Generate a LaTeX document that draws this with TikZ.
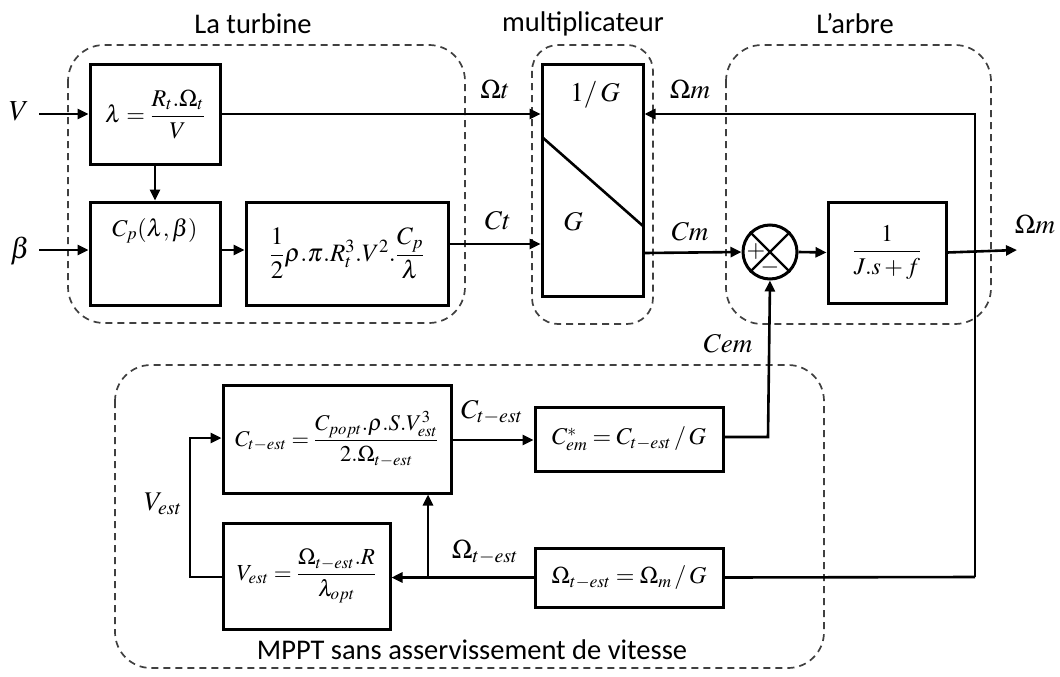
\documentclass[tikz,border=0pt]{standalone}
\usepackage{amsmath}
\usepackage{mathptmx}
\usepackage[no-math]{fontspec}
\setmainfont{Carlito}
\usetikzlibrary{arrows.meta}
\tikzset{
  blk/.style={draw, line width=3pt, inner sep=0pt, font=\fontsize{24}{28}\selectfont},
  grp/.style={draw=black!75, dashed, dash pattern=on 7pt off 5pt, line width=1.7pt, rounded corners=36pt},
  ln/.style={line width=2.6pt},
  arr/.style={line width=2.6pt, -{Triangle[length=11pt,width=10pt]}},
  lbl/.style={font=\fontsize{27}{30}\selectfont, inner sep=0pt},
  ttl/.style={font=\fontsize{28.5}{32}\selectfont, inner sep=0pt},
}
\begin{document}
\begin{tikzpicture}[x=1pt, y=-1pt]
\useasboundingbox (0,0) rectangle (1060,677);
% dashed groups
\draw[grp] (68,45) rectangle (465,323);
\draw[grp, rounded corners=26pt] (532,45) rectangle (653,324);
\draw[grp] (726,45) rectangle (991,324);
\draw[grp] (115,365) rectangle (824,668);
\node[ttl] (t1) at (253,24) {La turbine};
\node[ttl] (t2) at (583,24) {multiplicateur};
\node[ttl] (t3) at (855,24) {L’arbre};
\node[ttl] (t4) at (472,650) {MPPT sans asservissement de vitesse};
% blocks
\node[blk, minimum width=130pt, minimum height=99pt] (lam) at (155,114.5) {$\lambda=\dfrac{R_t.\Omega_t}{V}$};
\node[blk, minimum width=130pt, minimum height=103pt,
  label={[anchor=north, yshift=-14pt, font=\fontsize{24}{28}\selectfont]north:{$C_p(\lambda,\beta)$}}] (cp) at (155,253.5) {};
\node[blk, minimum width=202pt, minimum height=103pt, font=\fontsize{25}{29}\selectfont] (pw) at (347,253.5) {$\dfrac{1}{2}\rho.\pi.R_t^3.V^2.\dfrac{C_p}{\lambda}$};
\node[blk, minimum width=101pt, minimum height=231pt] (gb) at (592.5,180.5) {};
\draw[ln] (542,137) -- (643,226);
\node[lbl] (g1) at (595,95) {$1/\,G$};
\node[lbl] (g2) at (573,222) {$G$};
\node[draw, circle, line width=3pt, minimum size=54pt, inner sep=0pt] (sum) at (770,252) {};
\draw[line width=2.4pt] (sum.north west) -- (sum.south east) (sum.north east) -- (sum.south west);
\node[font=\fontsize{24}{26}\selectfont, inner sep=0pt] (plus) at (756,252) {$\boldsymbol{+}$};
\node[font=\fontsize{24}{26}\selectfont, inner sep=0pt] (minus) at (770,267) {$\boldsymbol{-}$};
\node[blk, minimum width=118pt, minimum height=101pt] (jb) at (887,252.5) {$\dfrac{1}{J.s+f}$};
\node[blk, minimum width=228pt, minimum height=108pt, font=\fontsize{22.5}{27}\selectfont] (ct) at (337,439) {$C_{t-est}=\dfrac{C_{popt}.\rho.S.V_{est}^{3}}{2.\Omega_{t-est}}$};
\node[blk, minimum width=188pt, minimum height=64pt] (ce) at (629,439) {$C_{em}^{*}=C_{t-est}\,/\,G$};
\node[blk, minimum width=167pt, minimum height=106pt, font=\fontsize{23}{27}\selectfont] (ve) at (306.5,576) {$V_{est}=\dfrac{\Omega_{t-est}.R}{\lambda_{opt}}$};
\node[blk, minimum width=188pt, minimum height=59pt] (om) at (629,577.5) {$\Omega_{t-est}=\Omega_m\,/\,G$};
% coordinates
\coordinate (vin) at (39,114);
\coordinate (bin) at (39,250);
\coordinate (out) at (1017,250);
\coordinate (fb) at (975,250);
\coordinate (fbt) at (975,114);
\coordinate (fbb) at (975,577);
\coordinate (cemc) at (768,437);
\coordinate (br) at (428,577);
\coordinate (vl1) at (190,577);
\coordinate (vl2) at (190,438);
% labels
\node[lbl, font=\fontsize{29}{32}\selectfont] (lv) at (19,111) {$V$};
\node[lbl, font=\fontsize{29}{32}\selectfont] (lb) at (20,251) {$\beta$};
\node[lbl] (lot) at (495,89) {$\Omega t$};
\node[lbl] (lct) at (498,221) {$Ct$};
\node[lbl] (lom) at (690,89) {$\Omega m$};
\node[lbl] (lcm) at (690,232) {$Cm$};
\node[lbl] (lom2) at (1035,224) {$\Omega m$};
\node[lbl] (lcem) at (728,344) {$Cem$};
\node[lbl] (lcte) at (492,412) {$C_{t-est}$};
\node[lbl] (lote) at (485,552) {$\Omega_{t-est}$};
\node[lbl] (lve) at (163,504) {$V_{est}$};
% connectors
\draw[arr] (vin) -- (lam.west |- vin);
\draw[arr] (bin) -- (cp.west |- bin);
\draw[arr] (lam.south) -- (cp.north);
\draw[arr] (cp.east |- 0,250) -- (pw.west |- 0,250);
\draw[arr] (lam.east |- 0,114) -- (gb.west |- 0,114);
\draw[arr] (pw.east |- 0,244) -- (gb.west |- 0,244);
\draw[arr] (gb.east |- 0,253) -- (sum.west);
\draw[arr] (sum.east) -- (jb.west);
\draw[arr] (jb.east) -- (out);
\draw[arr] (fbb) -- (fbt) -- (gb.east |- fbt);
\draw[ln] (om.east) -- (fbb);
\draw[arr] (ce.east |- cemc) -- (cemc) -- (sum.south);
\draw[arr] (ct.east |- 0,440) -- (ce.west |- 0,440);
\draw[arr] (om.west) -- (ve.east |- om.west);
\draw[arr] (br) -- (br |- ct.south);
\draw[arr] (ve.west |- vl1) -- (vl1) -- (vl2) -- (ct.west |- vl2);
\end{tikzpicture}
\end{document}
